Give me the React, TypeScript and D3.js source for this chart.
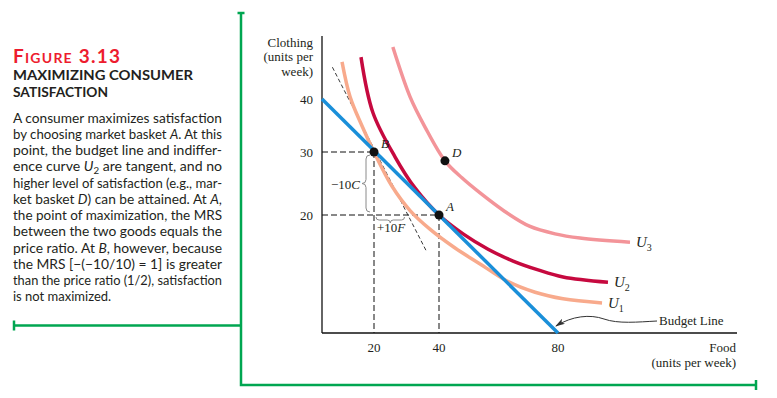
import * as d3 from "d3";

type Pt = [number, number];

// food (x) and clothing (y), units per week
const xTicks = [20, 40, 80];
const yTicks = [20, 30, 40];

const budgetLine: Pt[] = [[0, 40], [80, 0]];
const tangentAtB: Pt[] = [[4, 46], [36, 14]];

const u1: Pt[] = [
  [7.7, 47.0], [10.8, 40.4], [15.4, 34.9], [20, 30], [25.5, 24.6], [31.1, 20.7],
  [37.2, 17.6], [45.4, 14.4], [53.8, 11.7], [62.9, 8.8], [72.3, 6.9], [81.7, 5.8], [94.8, 5.1],
];
const u2: Pt[] = [
  [15.0, 47.9], [19.6, 37.4], [26.5, 29.2], [32.6, 24.3], [40, 20], [48.1, 16.8],
  [56.5, 14.2], [64.9, 12.2], [73.3, 10.7], [81.7, 9.5], [96.8, 8.6],
];
const u3: Pt[] = [
  [25.8, 49.8], [31.1, 40.4], [35.7, 34.7], [42.0, 28.6], [47.7, 25.9], [53.8, 23.5],
  [62.0, 20.6], [70.4, 18.1], [79.0, 16.8], [87.4, 16.1], [104.2, 15.4],
];

const curves = [
  { name: "3", data: u3, color: "#f39499" },
  { name: "2", data: u2, color: "#c6093f" },
  { name: "1", data: u1, color: "#f8aa8c" },
];

const baskets = [
  { name: "B", food: 20, clothing: 30 },
  { name: "A", food: 40, clothing: 20 },
  { name: "D", food: 42, clothing: 28.6 },
];

type Seg = string | { i: string; sub?: string };
const bodyLines: Seg[][] = [
  ["A consumer maximizes satisfaction"],
  ["by choosing market basket ", { i: "A" }, ". At this"],
  ["point, the budget line and indiffer-"],
  ["ence curve ", { i: "U", sub: "2" }, " are tangent, and no"],
  ["higher level of satisfaction (e.g., mar-"],
  ["ket basket ", { i: "D" }, ") can be attained. At ", { i: "A" }, ","],
  ["the point of maximization, the MRS"],
  ["between the two goods equals the"],
  ["price ratio. At ", { i: "B" }, ", however, because"],
  ["the MRS [\u2212(\u221210/10) = 1] is greater"],
  ["than the price ratio (1/2), satisfaction"],
  ["is not maximized."],
];

const serif = "'Liberation Serif', 'DejaVu Serif', serif";
const sans = "Lato, 'Noto Sans', sans-serif";
const green = "#00a651";

const x = d3.scaleLinear().domain([0, 20, 40, 80]).range([322, 374, 439, 558]);
const y = d3.scaleLinear().domain([0, 20, 30, 40]).range([333, 215, 152, 99]);

const line = d3
  .line<Pt>()
  .x((d) => x(d[0]))
  .y((d) => y(d[1]));
const smooth = d3
  .line<Pt>()
  .x((d) => x(d[0]))
  .y((d) => y(d[1]))
  .curve(d3.curveCatmullRom.alpha(0.5));

const braceV = (bx: number, y1: number, y2: number, w = 4) => {
  const m = (y1 + y2) / 2;
  return `M${bx + w},${y1} Q${bx},${y1} ${bx},${y1 + w} L${bx},${m - w} Q${bx},${m} ${bx - w},${m} Q${bx},${m} ${bx},${m + w} L${bx},${y2 - w} Q${bx},${y2} ${bx + w},${y2}`;
};
const braceH = (x1: number, x2: number, by: number, w = 3) => {
  const m = (x1 + x2) / 2;
  return `M${x1},${by} Q${x1},${by + w} ${x1 + w},${by + w} L${m - w},${by + w} Q${m},${by + w} ${m},${by + 2 * w} Q${m},${by + w} ${m + w},${by + w} L${x2 - w},${by + w} Q${x2},${by + w} ${x2},${by}`;
};

const renderSegs = (segs: Seg[]) => {
  let shift = 0;
  const out: JSX.Element[] = [];
  segs.forEach((s, k) => {
    if (typeof s === "string") {
      out.push(
        <tspan key={k} dy={shift ? -shift : undefined}>
          {s}
        </tspan>
      );
      shift = 0;
      return;
    }
    out.push(
      <tspan key={k} fontStyle="italic" dy={shift ? -shift : undefined}>
        {s.i}
      </tspan>
    );
    shift = 0;
    if (s.sub) {
      out.push(
        <tspan key={k + "s"} fontSize={9} dy={3}>
          {s.sub}
        </tspan>
      );
      shift = 3;
    }
  });
  return out;
};

export default function App() {
  const x0 = x(0);
  const y0 = y(0);
  const tipX = x(80) - 2;
  const tipY = y0 - 7;

  return (
    <svg
      width={777}
      height={398}
      style={{ position: "absolute", left: 0, top: 0, background: "#fff" }}
    >
      <defs>
        <marker id="arrow" viewBox="0 0 10 6" refX={9} refY={3} markerWidth={10} markerHeight={6} orient="auto" markerUnits="userSpaceOnUse">
          <path d="M0,0 L10,3 L0,6 L2.5,3 z" fill="#333" />
        </marker>
      </defs>

      {/* frame */}
      <g stroke={green} strokeWidth={2.5} fill="none">
        <path d="M241,13 V385 H756" />
        <path d="M237.5,13 H244.5" />
        <path d="M756,380 V390" />
        <path d="M14,325.5 H241" />
        <path d="M14,320.5 V330.5" />
      </g>

      {/* caption */}
      <text x={13} y={63} fill="#ed1c2e" fontFamily={sans} fontWeight={700} textLength={107} lengthAdjust="spacing">
        <tspan fontSize={19}>F</tspan>
        <tspan fontSize={14}>IGURE</tspan>
        <tspan fontSize={19}> 3.13</tspan>
      </text>
      <text x={13} y={80} fontFamily={sans} fontWeight={700} fontSize={14} fill="#231f20" textLength={180} lengthAdjust="spacingAndGlyphs">
        MAXIMIZING CONSUMER
      </text>
      <text x={13} y={97} fontFamily={sans} fontWeight={700} fontSize={14} fill="#231f20" textLength={95} lengthAdjust="spacingAndGlyphs">
        SATISFACTION
      </text>
      {bodyLines.map((segs, i) => (
        <text
          key={i}
          x={13}
          y={122.5 + i * 16.25}
          fontFamily={sans}
          fontSize={13}
          fill="#231f20"
          textLength={i < bodyLines.length - 1 ? 209 : undefined}
          lengthAdjust="spacingAndGlyphs"
        >
          {renderSegs(segs)}
        </text>
      ))}

      {/* axes */}
      <g stroke="#111" strokeWidth={1.3}>
        <line x1={x0} x2={x0} y1={36} y2={y0} />
        <line x1={x0} x2={737} y1={y0} y2={y0} />
      </g>
      <g fontFamily={serif} fontSize={13} fill="#231f20">
        {yTicks.map((t) => (
          <text key={t} x={313} y={y(t) + 4.5} textAnchor="end">
            {t}
          </text>
        ))}
        {xTicks.map((t) => (
          <text key={t} x={x(t)} y={352} textAnchor="middle">
            {t}
          </text>
        ))}
        <text x={313} y={47} textAnchor="end">Clothing</text>
        <text x={313} y={61} textAnchor="end">(units per</text>
        <text x={313} y={76} textAnchor="end">week)</text>
        <text x={736} y={352} textAnchor="end">Food</text>
        <text x={736} y={367} textAnchor="end">(units per week)</text>
      </g>

      {/* guide lines to baskets A and B */}
      <g stroke="#111" strokeWidth={1} strokeDasharray="6,3" fill="none">
        {baskets.slice(0, 2).map((b) => (
          <g key={b.name}>
            <line x1={x0} x2={x(b.food)} y1={y(b.clothing)} y2={y(b.clothing)} />
            <line x1={x(b.food)} x2={x(b.food)} y1={y(b.clothing)} y2={y0} />
          </g>
        ))}
      </g>

      {/* braces */}
      <g stroke="#8a8a8a" strokeWidth={1} fill="none">
        <path d={braceV(x(20) - 8, y(30) + 3, y(20) - 3)} />
        <path d={braceH(x(20) + 2, x(30) - 2, y(20) + 2)} />
      </g>
      <text x={x(20) - 14} y={y(25) + 5} textAnchor="end" fontFamily={serif} fontSize={13} fill="#231f20">
        {"\u221210"}
        <tspan fontStyle="italic">C</tspan>
      </text>
      <text x={x(20) + 3} y={y(20) + 17} fontFamily={serif} fontSize={13} fill="#231f20">
        +10<tspan fontStyle="italic">F</tspan>
      </text>

      {/* tangent at B */}
      <path d={line(tangentAtB) ?? ""} stroke="#222" strokeWidth={0.9} strokeDasharray="4,2.5" fill="none" />

      {/* indifference curves */}
      {curves.map((c) => {
        const last = c.data[c.data.length - 1];
        return (
          <g key={c.name}>
            <path d={smooth(c.data) ?? ""} stroke={c.color} strokeWidth={3.5} fill="none" />
            <text x={x(last[0]) + 6} y={y(last[1]) + 5} fontFamily={serif} fontSize={15} fill="#231f20">
              <tspan fontStyle="italic">U</tspan>
              <tspan fontSize={10} dy={4}>
                {c.name}
              </tspan>
            </text>
          </g>
        );
      })}

      {/* budget line */}
      <path d={line(budgetLine) ?? ""} stroke="#1a8fd9" strokeWidth={3.5} fill="none" />
      <path
        d={`M${tipX + 101},${tipY - 5} C${tipX + 82},${tipY - 4} ${tipX + 62},${tipY - 2} ${tipX + 48},${tipY - 7} C${tipX + 34},${tipY - 12} ${tipX + 16},${tipY - 10} ${tipX},${tipY}`}
        stroke="#333"
        strokeWidth={1}
        fill="none"
        markerEnd="url(#arrow)"
      />
      <text x={tipX + 103} y={tipY - 1} fontFamily={serif} fontSize={13} fill="#231f20">
        Budget Line
      </text>

      {/* baskets */}
      {baskets.map((b) => (
        <g key={b.name}>
          <circle cx={x(b.food)} cy={y(b.clothing)} r={4.5} fill="#111" />
          <text x={x(b.food) + 7} y={y(b.clothing) - 4} fontFamily={serif} fontStyle="italic" fontSize={13} fill="#231f20">
            {b.name}
          </text>
        </g>
      ))}
    </svg>
  );
}
